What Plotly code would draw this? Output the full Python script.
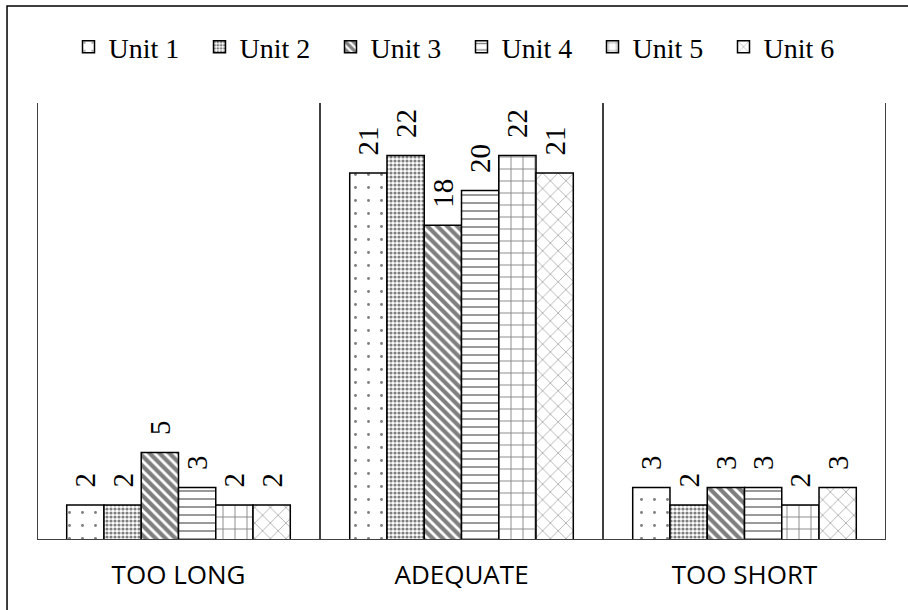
import plotly.graph_objects as go

categories = ["TOO LONG", "ADEQUATE", "TOO SHORT"]
series_names = ["Unit 1", "Unit 2", "Unit 3", "Unit 4", "Unit 5", "Unit 6"]
unit1 = [2, 21, 3]
unit2 = [2, 22, 2]
unit3 = [5, 18, 3]
unit4 = [3, 20, 3]
unit5 = [2, 22, 2]
unit6 = [2, 21, 3]
series_values = [unit1, unit2, unit3, unit4, unit5, unit6]

patterns = [
    dict(shape=".", size=13, solidity=0.04),
    dict(shape=".", size=4, solidity=0.5),
    dict(shape="\\", size=7, solidity=0.6),
    dict(shape="-", size=8, solidity=0.2),
    dict(shape="+", size=12, solidity=0.14),
    dict(shape="x", size=11, solidity=0.1),
]

label_font = dict(family="Liberation Serif, Times New Roman, serif", size=29, color="black")

fig = go.Figure()
for name, vals, pat in zip(series_names, series_values, patterns):
    fig.add_trace(go.Bar(
        name=name, x=categories, y=vals,
        marker=dict(color="white", line=dict(color="black", width=1.5),
                    pattern=dict(fgcolor="black", bgcolor="white", **pat)),
        texttemplate="\u00a0\u00a0%{y}", textposition="outside", textangle=-90,
        textfont=label_font, outsidetextfont=label_font,
        constraintext="none", cliponaxis=False,
    ))

shapes = []
for xv in [-0.5, 0.5, 1.5, 2.5]:
    shapes.append(dict(type="line", xref="x", yref="y", x0=xv, x1=xv, y0=0, y1=25,
                       line=dict(color="black", width=1.5)))
shapes.append(dict(type="line", xref="x", yref="y", x0=-0.5, x1=2.5, y0=0, y1=0,
                   line=dict(color="#404040", width=2)))
shapes.append(dict(type="rect", xref="paper", yref="paper", x0=-0.0353, x1=1.04,
                   y0=-0.2, y1=1.222, line=dict(color="black", width=1.5)))

fig.update_layout(
    width=908, height=610,
    margin=dict(l=37, r=22, t=103, b=70),
    paper_bgcolor="white", plot_bgcolor="white",
    barmode="group", bargap=0.21, bargroupgap=0,
    shapes=shapes,
    showlegend=True,
    legend=dict(orientation="h", x=0.5, xanchor="center", y=1.128, yanchor="middle",
                font=dict(family="Liberation Serif", size=28, color="black"),
                entrywidth=86, traceorder="normal", itemwidth=30),
    xaxis=dict(range=[-0.5, 2.5], showgrid=False, zeroline=False, showline=False,
               ticks="", ticklabelstandoff=17,
               tickfont=dict(family="Open Sans", size=26, color="black")),
    yaxis=dict(range=[0, 25], visible=False),
)

fig.write_html("out.html", config={"displayModeBar": False},
               post_script="document.body.style.margin='0';document.body.style.overflow='hidden';")
